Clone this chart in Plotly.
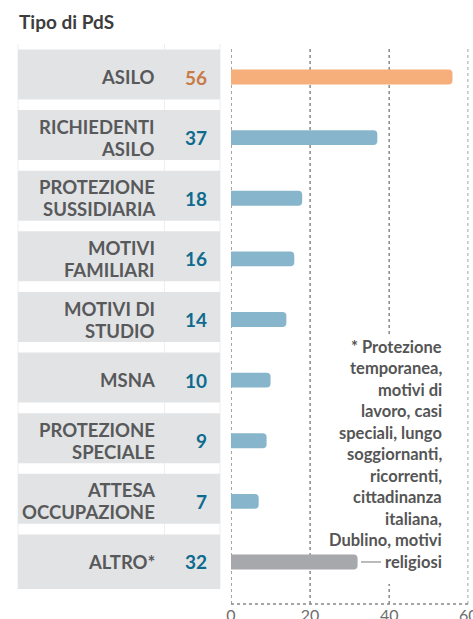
import plotly.graph_objects as go

categories = ["ASILO", "RICHIEDENTI ASILO", "PROTEZIONE SUSSIDIARIA", "MOTIVI FAMILIARI",
              "MOTIVI DI STUDIO", "MSNA", "PROTEZIONE SPECIALE", "ATTESA OCCUPAZIONE", "ALTRO*"]
label_lines = [["ASILO"], ["RICHIEDENTI", "ASILO"], ["PROTEZIONE", "SUSSIDIARIA"],
               ["MOTIVI", "FAMILIARI"], ["MOTIVI DI", "STUDIO"], ["MSNA"],
               ["PROTEZIONE", "SPECIALE"], ["ATTESA", "OCCUPAZIONE"], ["ALTRO*"]]
values = [56, 37, 18, 16, 14, 10, 9, 7, 32]
bar_colors = ["#f6ae7b"] + ["#87b6cc"] * 7 + ["#a7a8ab"]
value_colors = ["#c77b46"] + ["#0f6b8d"] * 8
x_ticks = [0, 20, 40, 60]
note_lines = ["* Protezione", "temporanea,", "motivi di", "lavoro, casi", "speciali, lungo",
              "soggiornanti,", "ricorrenti,", "cittadinanza", "italiana,", "Dublino, motivi",
              "religiosi"]
title = "Tipo di PdS"

W, H = 473, 619
FONT = "Lato"

def px(xp):
    return xp / W

def py(yp):
    return 1 - yp / H

fig = go.Figure()
fig.add_trace(go.Bar(
    x=values, y=categories, orientation="h",
    marker=dict(color=bar_colors, line=dict(width=0)),
    width=0.247, hoverinfo="skip",
))

shapes = []
# faint table lines
for xp in [18, 164.5, 220]:
    shapes.append(dict(type="line", xref="paper", yref="paper", x0=px(xp), x1=px(xp),
                       y0=py(44), y1=py(589), line=dict(color="#eeeeee", width=1), layer="below"))
# grey boxes
n = len(categories)
for i in range(n):
    bottom = i + (0.445 if i == n - 1 else 0.371)
    shapes.append(dict(type="rect", xref="paper", yref="y", x0=px(18), x1=px(220),
                       y0=i - 0.454, y1=bottom, fillcolor="#e2e3e5", line=dict(width=0),
                       layer="below"))
# dotted gridlines
for t in x_ticks:
    shapes.append(dict(type="line", xref="x", yref="paper", x0=t, x1=t, y0=py(604), y1=py(47),
                       line=dict(color="#888888", width=1.5, dash="dot"), layer="below"))
# bottom dotted axis line
shapes.append(dict(type="line", xref="x", yref="paper", x0=0, x1=60, y0=py(604), y1=py(604),
                   line=dict(color="#888888", width=1.5, dash="dot"), layer="above"))
# white box behind note
shapes.append(dict(type="rect", xref="paper", yref="paper", x0=px(376), x1=px(450),
                   y0=py(584), y1=py(334), fillcolor="white", line=dict(width=0), layer="above"))
# leader line
shapes.append(dict(type="line", xref="paper", yref="y", x0=px(361), x1=px(381),
                   y0=n - 1, y1=n - 1, line=dict(color="#777777", width=1), layer="above"))

ann = []
ann.append(dict(text="<b>" + title + "</b>", xref="paper", yref="paper", x=px(17), y=py(21),
                xanchor="left", yanchor="middle", showarrow=False,
                font=dict(family=FONT, size=19, color="#3d3d3d")))
for i, lines in enumerate(label_lines):
    k = len(lines)
    for j, ln in enumerate(lines):
        shift = (k - 1) * 11 - j * 22
        ann.append(dict(text="<b>" + ln + "</b>", xref="paper", yref="y", x=px(157), y=i,
                        yshift=shift, xanchor="right", yanchor="middle", showarrow=False,
                        font=dict(family=FONT, size=18.5, color="#58595b")))
    ann.append(dict(text="<b>" + str(values[i]) + "</b>", xref="paper", yref="y", x=px(209), y=i,
                    xanchor="right", yanchor="middle", showarrow=False,
                    font=dict(family=FONT, size=19, color=value_colors[i])))
m = len(note_lines)
for j, ln in enumerate(note_lines):
    ann.append(dict(text="<b>" + ln + "</b>", xref="paper", yref="y", x=px(444), y=n - 1,
                    yshift=(m - 1 - j) * 21.5, xanchor="right", yanchor="middle",
                    showarrow=False, font=dict(family=FONT, size=16.5, color="#555555")))

fig.update_layout(
    width=W, height=H, template="none",
    margin=dict(l=0, r=0, t=0, b=0),
    paper_bgcolor="white", plot_bgcolor="white",
    showlegend=False, barcornerradius=4,
    shapes=shapes, annotations=ann,
    xaxis=dict(domain=[px(231), px(468.3)], range=[0, 60], tickvals=x_ticks,
               showgrid=False, zeroline=False, showline=False, ticks="", automargin=False,
               ticklabeloverflow="allow",
               tickfont=dict(family=FONT, size=16, color="#6d6d6d")),
    yaxis=dict(domain=[py(604), py(47)], type="category", categoryarray=categories,
               categoryorder="array", range=[n - 1 + 0.693, -0.495],
               showticklabels=False, showgrid=False, zeroline=False, ticks="",
               automargin=False),
)
fig.write_html("out.html", config={"displayModeBar": False},
               post_script="document.body.style.margin='0px';")
